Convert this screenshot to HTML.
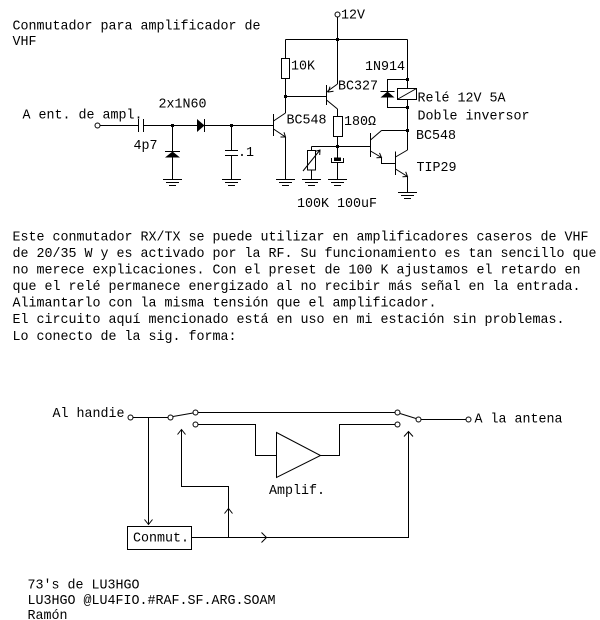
<!DOCTYPE html>
<html><head><meta charset="utf-8"><style>
html,body{margin:0;padding:0;background:#fff;}
svg{display:block;}
text{font-family:"Liberation Mono","DejaVu Sans Mono",monospace;font-size:14px;fill:#000;}
</style></head><body>
<svg width="600" height="620" viewBox="0 0 600 620" xmlns="http://www.w3.org/2000/svg">
<rect width="600" height="620" fill="#fff"/>

<!-- Titles -->
<text x="12.5" y="29.5" textLength="248" lengthAdjust="spacingAndGlyphs">Conmutador para amplificador de</text>
<text x="12.5" y="45" textLength="24" lengthAdjust="spacingAndGlyphs">VHF</text>

<!-- Straight lines (top circuit) -->
<g fill="none" stroke="#000" stroke-width="1" shape-rendering="crispEdges">
<path d="M100,125.5 H138.5 M138.5,119 V132 M143.5,119 V132 M143.5,125.5 H197 M204.5,119 V132 M204.5,125.5 H273.5"/>
<path d="M172.5,125.5 V179.5 M165,151.5 H180"/>
<path d="M231.5,125.5 V150.5 M225,150.5 H238 M225,155.5 H238 M231.5,155.5 V179.5"/>
<path d="M273.5,114 V136"/>
<path d="M285.5,39.5 V58.5 M285.5,78.5 V113 M285.5,137 V179.5"/>
<rect x="281.5" y="58.5" width="8" height="20"/>
<path d="M285.5,96.5 H326.5 M326.5,85 V105"/>
<path d="M285.5,39.5 H407.5"/>
<path d="M337.5,17 V84"/>
<path d="M337.5,109 V116.5 M337.5,136.5 V157.5 M337.5,162.5 V179.5"/>
<rect x="333.5" y="116.5" width="9" height="20"/>
<path d="M311.5,146.5 H370.5 M311.5,146.5 V150 M311.5,170 V179.5"/>
<rect x="307.5" y="150.5" width="8" height="19.5"/>
<path d="M331.5,158 V162.5 H343.5 V158"/>
<path d="M370.5,133 V157"/>
<path d="M407.5,39.5 V88.5 M407.5,99.5 V150"/>
<rect x="397.5" y="88.5" width="19" height="11"/>
<path d="M407.5,79.5 H387.5 V107.5 H407.5 M380.5,91.5 H394.5"/>
<path d="M381.5,130.5 H407.5"/>
<path d="M381.5,157.5 V163.5 H395.5"/>
<path d="M395.5,151.5 V175"/>
<path d="M407.5,176.5 V192.5"/>
<!-- grounds -->
<path d="M163,179.5 H182 M166,182.5 H179 M169,185.5 H176"/>
<path d="M222,179.5 H241 M225,182.5 H238 M228,185.5 H235"/>
<path d="M276,179.5 H295 M279,182.5 H292 M282,185.5 H289"/>
<path d="M302,179.5 H321 M305,182.5 H318 M308,185.5 H315"/>
<path d="M328,179.5 H347 M331,182.5 H344 M334,185.5 H341"/>
<path d="M398,192.5 H417 M401,195.5 H414 M404,198.5 H411"/>
</g>

<!-- diagonals, arrows -->
<g fill="none" stroke="#000" stroke-width="1">
<path d="M273.5,121 L285.5,113"/>
<path d="M273.5,129 L285.5,137 M280.5,137 L285.5,137 L284,132.3"/>
<path d="M326.5,92 L337.5,84 M333.5,91.2 L328.3,92 L330,86.7"/>
<path d="M326.5,100 L337.5,109"/>
<path d="M370.5,140 L381.5,130.5"/>
<path d="M370.5,151 L381.5,157.5 M376.5,157.8 L381.5,157.5 L379.5,152.9"/>
<path d="M395.5,157 L407.5,150"/>
<path d="M395.5,169 L407.5,176.5 M402.5,176.7 L407.5,176.5 L405.7,171.8"/>
<path d="M398,99 L416.5,88.5"/>
<path d="M303,171 L320,150 M315.2,151.4 L320,150 L319.7,155"/>
</g>

<!-- filled parts -->
<g fill="#000" stroke="none">
<polygon points="197,119 197,132 204.5,125.5"/>
<polygon points="165,157.5 180,157.5 172.5,151.5"/>
<polygon points="380.5,97.5 394.5,97.5 387.5,91.5"/>
<rect x="334" y="157.5" width="7" height="3.5"/>
<rect x="171" y="124" width="3" height="3"/>
<rect x="230" y="124" width="3" height="3"/>
<rect x="284" y="95" width="3" height="3"/>
<rect x="336" y="38" width="3" height="3"/>
<rect x="336" y="145" width="3" height="3"/>
<rect x="406" y="78" width="3" height="3"/>
<rect x="406" y="106" width="3" height="3"/>
<rect x="406" y="129" width="3" height="3"/>
</g>
<g fill="#fff" stroke="#000" stroke-width="1">
<circle cx="97.5" cy="125.5" r="2.5"/>
<circle cx="337.5" cy="14.5" r="2.5"/>
</g>

<!-- top circuit labels -->
<text x="341" y="18.5" textLength="24" lengthAdjust="spacingAndGlyphs">12V</text>
<text x="22.5" y="118.5" textLength="120" lengthAdjust="spacingAndGlyphs">A ent. de ampl.</text>
<text x="158.5" y="107.5" textLength="48" lengthAdjust="spacingAndGlyphs">2x1N60</text>
<text x="133.5" y="149" textLength="24" lengthAdjust="spacingAndGlyphs">4p7</text>
<text x="238" y="156" textLength="16" lengthAdjust="spacingAndGlyphs">.1</text>
<text x="286.5" y="123.5" textLength="40" lengthAdjust="spacingAndGlyphs">BC548</text>
<text x="291" y="69.5" textLength="24" lengthAdjust="spacingAndGlyphs">10K</text>
<text x="338" y="89.5" textLength="40" lengthAdjust="spacingAndGlyphs">BC327</text>
<text x="344" y="125" textLength="32" lengthAdjust="spacingAndGlyphs">180Ω</text>
<text x="365" y="70" textLength="40" lengthAdjust="spacingAndGlyphs">1N914</text>
<text x="417.5" y="101.5" textLength="88" lengthAdjust="spacingAndGlyphs">Relé 12V 5A</text>
<text x="417.5" y="119.5" textLength="112" lengthAdjust="spacingAndGlyphs">Doble inversor</text>
<text x="416" y="139" textLength="40" lengthAdjust="spacingAndGlyphs">BC548</text>
<text x="416.5" y="171" textLength="40" lengthAdjust="spacingAndGlyphs">TIP29</text>
<text x="297" y="207" textLength="80" lengthAdjust="spacingAndGlyphs">100K 100uF</text>

<!-- Body text -->
<text x="12.5" y="240.5" textLength="576" lengthAdjust="spacingAndGlyphs">Este conmutador RX/TX se puede utilizar en amplificadores caseros de VHF</text>
<text x="12.5" y="257" textLength="584" lengthAdjust="spacingAndGlyphs">de 20/35 W y es activado por la RF. Su funcionamiento es tan sencillo que</text>
<text x="12.5" y="273.5" textLength="568" lengthAdjust="spacingAndGlyphs">no merece explicaciones. Con el preset de 100 K ajustamos el retardo en</text>
<text x="12.5" y="290" textLength="568" lengthAdjust="spacingAndGlyphs">que el relé permanece energizado al no recibir más señal en la entrada.</text>
<text x="12.5" y="306.5" textLength="424" lengthAdjust="spacingAndGlyphs">Alimantarlo con la misma tensión que el amplificador.</text>
<text x="12.5" y="323" textLength="552" lengthAdjust="spacingAndGlyphs">El circuito aquí mencionado está en uso en mi estación sin problemas.</text>
<text x="12.5" y="340" textLength="224" lengthAdjust="spacingAndGlyphs">Lo conecto de la sig. forma:</text>

<!-- Bottom diagram -->
<g fill="none" stroke="#000" stroke-width="1" shape-rendering="crispEdges">
<path d="M133,417.5 H168"/>
<path d="M198,412.5 H395"/>
<path d="M198,424.5 H255.5 V455.5 H276.5"/>
<path d="M320.5,455.5 H339.5 V424.5 H395"/>
<path d="M421,419.5 H466"/>
<path d="M148.5,417.5 V524.5"/>
<rect x="127.5" y="526.5" width="64" height="23"/>
<path d="M191.5,537.5 H408.5 V432"/>
<path d="M228.5,537.5 V486.5 H181.5 V430"/>
</g>
<g fill="none" stroke="#000" stroke-width="1">
<path d="M173,416.5 L193,413"/>
<path d="M400,413.5 L416,418.5"/>
<path d="M276.5,432.5 V477.5 L320.5,455.5 Z"/>
<path d="M144.5,519.5 L148.5,524.5 L152.5,519.5"/>
<path d="M261.5,532.5 L266.5,537.5 L261.5,542.5"/>
<path d="M224.5,513.5 L228.5,508.5 L232.5,513.5"/>
<path d="M177.5,434.5 L181.5,429.5 L185.5,434.5"/>
<path d="M404,436.5 L408.5,431.5 L413,436.5"/>
</g>
<g fill="#fff" stroke="#000" stroke-width="1">
<circle cx="130.5" cy="417.5" r="2.5"/>
<circle cx="170.5" cy="417.5" r="2.5"/>
<circle cx="195.5" cy="412.5" r="2.5"/>
<circle cx="195.5" cy="424.5" r="2.5"/>
<circle cx="397.5" cy="412.5" r="2.5"/>
<circle cx="397.5" cy="424.5" r="2.5"/>
<circle cx="418.5" cy="419.5" r="2.5"/>
<circle cx="468.5" cy="419.5" r="2.5"/>
</g>
<text x="52.5" y="417" textLength="72" lengthAdjust="spacingAndGlyphs">Al handie</text>
<text x="474.5" y="422.5" textLength="88" lengthAdjust="spacingAndGlyphs">A la antena</text>
<text x="269" y="494" textLength="56" lengthAdjust="spacingAndGlyphs">Amplif.</text>
<text x="133" y="541.5" textLength="56" lengthAdjust="spacingAndGlyphs">Conmut.</text>

<!-- Footer -->
<text x="27.5" y="588.5" textLength="112" lengthAdjust="spacingAndGlyphs">73's de LU3HGO</text>
<text x="27.5" y="604" textLength="248" lengthAdjust="spacingAndGlyphs">LU3HGO @LU4FIO.#RAF.SF.ARG.SOAM</text>
<text x="27.5" y="619" textLength="40" lengthAdjust="spacingAndGlyphs">Ramón</text>
</svg>
</body></html>
